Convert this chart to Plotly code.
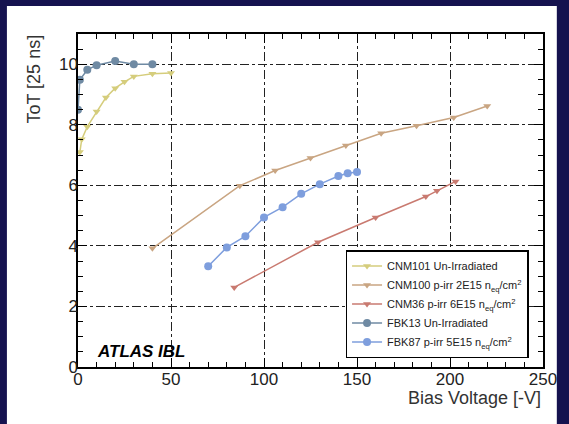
import plotly.graph_objects as go

# ---- data ----
cnm101_v = [1, 2, 5, 10, 15, 20, 25, 30, 40, 50]
cnm101_tot = [7.1, 7.52, 7.94, 8.44, 8.9, 9.21, 9.42, 9.6, 9.69, 9.71]

cnm100_v = [40, 87, 106, 125, 144, 163, 182, 202, 220]
cnm100_tot = [3.92, 5.99, 6.49, 6.9, 7.32, 7.72, 7.97, 8.24, 8.62]

cnm36_v = [84, 129, 160, 187, 193, 203]
cnm36_tot = [2.63, 4.12, 4.94, 5.63, 5.82, 6.13]

fbk13_v = [0, 1, 5, 10, 20, 30, 40]
fbk13_tot = [8.5, 9.49, 9.82, 9.97, 10.11, 10.0, 10.0]

fbk87_v = [70, 80, 90, 100, 110, 120, 130, 140, 145, 150]
fbk87_tot = [3.33, 3.95, 4.32, 4.94, 5.28, 5.72, 6.04, 6.31, 6.4, 6.44]

series = [
    ("CNM101 Un-Irradiated", cnm101_v, cnm101_tot, "#d5cd7c", "triangle-down"),
    ("CNM100 p-irr 2E15 n<sub>eq</sub>/cm<sup>2</sup>", cnm100_v, cnm100_tot, "#c9a582", "triangle-down"),
    ("CNM36 p-irr 6E15 n<sub>eq</sub>/cm<sup>2</sup>", cnm36_v, cnm36_tot, "#c97a70", "triangle-down"),
    ("FBK13 Un-Irradiated", fbk13_v, fbk13_tot, "#6f8aa3", "circle"),
    ("FBK87 p-irr 5E15 n<sub>eq</sub>/cm<sup>2</sup>", fbk87_v, fbk87_tot, "#7e9edd", "circle"),
]

W, H = 569, 424
L, R, T, B = 78, 20, 34, 57
PW, PH = W - L - R, H - T - B


def px_x(p):
    return (p - L) / PW


def px_y(p):
    return (H - B - p) / PH


fig = go.Figure()
for name, xs, ys, col, sym in series:
    fig.add_trace(go.Scatter(
        x=xs, y=ys, name=name, mode="lines+markers",
        line=dict(color=col, width=1.5),
        marker=dict(color=col, symbol=sym, size=8 if sym == "circle" else 7),
    ))

axis_common = dict(
    showline=True, linecolor="black", linewidth=1.5, mirror="ticks",
    ticks="inside", ticklen=9, tickwidth=1.2, tickcolor="black",
    showgrid=True, gridcolor="#222", griddash="dashdot", gridwidth=1,
    zeroline=False, tickfont=dict(size=17, color="#222"),
)

fig.update_xaxes(range=[0, 250], dtick=50, ticklabelstandoff=-4,
                 minor=dict(dtick=10, ticks="inside", ticklen=5, tickcolor="black", showgrid=False),
                 **axis_common)
fig.update_yaxes(range=[0, 11], dtick=2, ticklabelstandoff=-5,
                 minor=dict(dtick=0.5, ticks="inside", ticklen=5, tickcolor="black", showgrid=False),
                 **axis_common)

# slide frame
fig.add_shape(type="rect", xref="paper", yref="paper",
              x0=px_x(6), x1=px_x(563), y0=px_y(430), y1=px_y(6),
              fillcolor="white", line_width=0, layer="below")

fig.add_annotation(text="ToT [25 ns]", textangle=-90, showarrow=False,
                   xref="paper", yref="paper", x=px_x(33), y=px_y(79),
                   xanchor="center", yanchor="middle",
                   font=dict(size=18, color="#333"))
fig.add_annotation(text="Bias Voltage [-V]", showarrow=False,
                   xref="paper", yref="paper", x=1, y=px_y(398),
                   xanchor="right", yanchor="middle",
                   font=dict(size=18, color="#333"))
fig.add_annotation(text="<b><i>ATLAS IBL</i></b>", showarrow=False,
                   xref="paper", yref="paper", x=px_x(95), y=px_y(351),
                   xanchor="left", yanchor="middle",
                   font=dict(size=17, color="black"))

fig.update_layout(
    width=W, height=H,
    margin=dict(l=L, r=R, t=T, b=B),
    paper_bgcolor="#15124f", plot_bgcolor="white",
    font=dict(family="Liberation Sans, Arial, sans-serif"),
    legend=dict(x=px_x(349), y=px_y(250), xanchor="left", yanchor="top",
                bgcolor="white", bordercolor="black", borderwidth=1.5,
                font=dict(size=11, color="#222"), tracegroupgap=0),
    showlegend=True,
)

fig.write_html("out.html", config={"displayModeBar": False},
               post_script="document.body.style.margin='0';")
